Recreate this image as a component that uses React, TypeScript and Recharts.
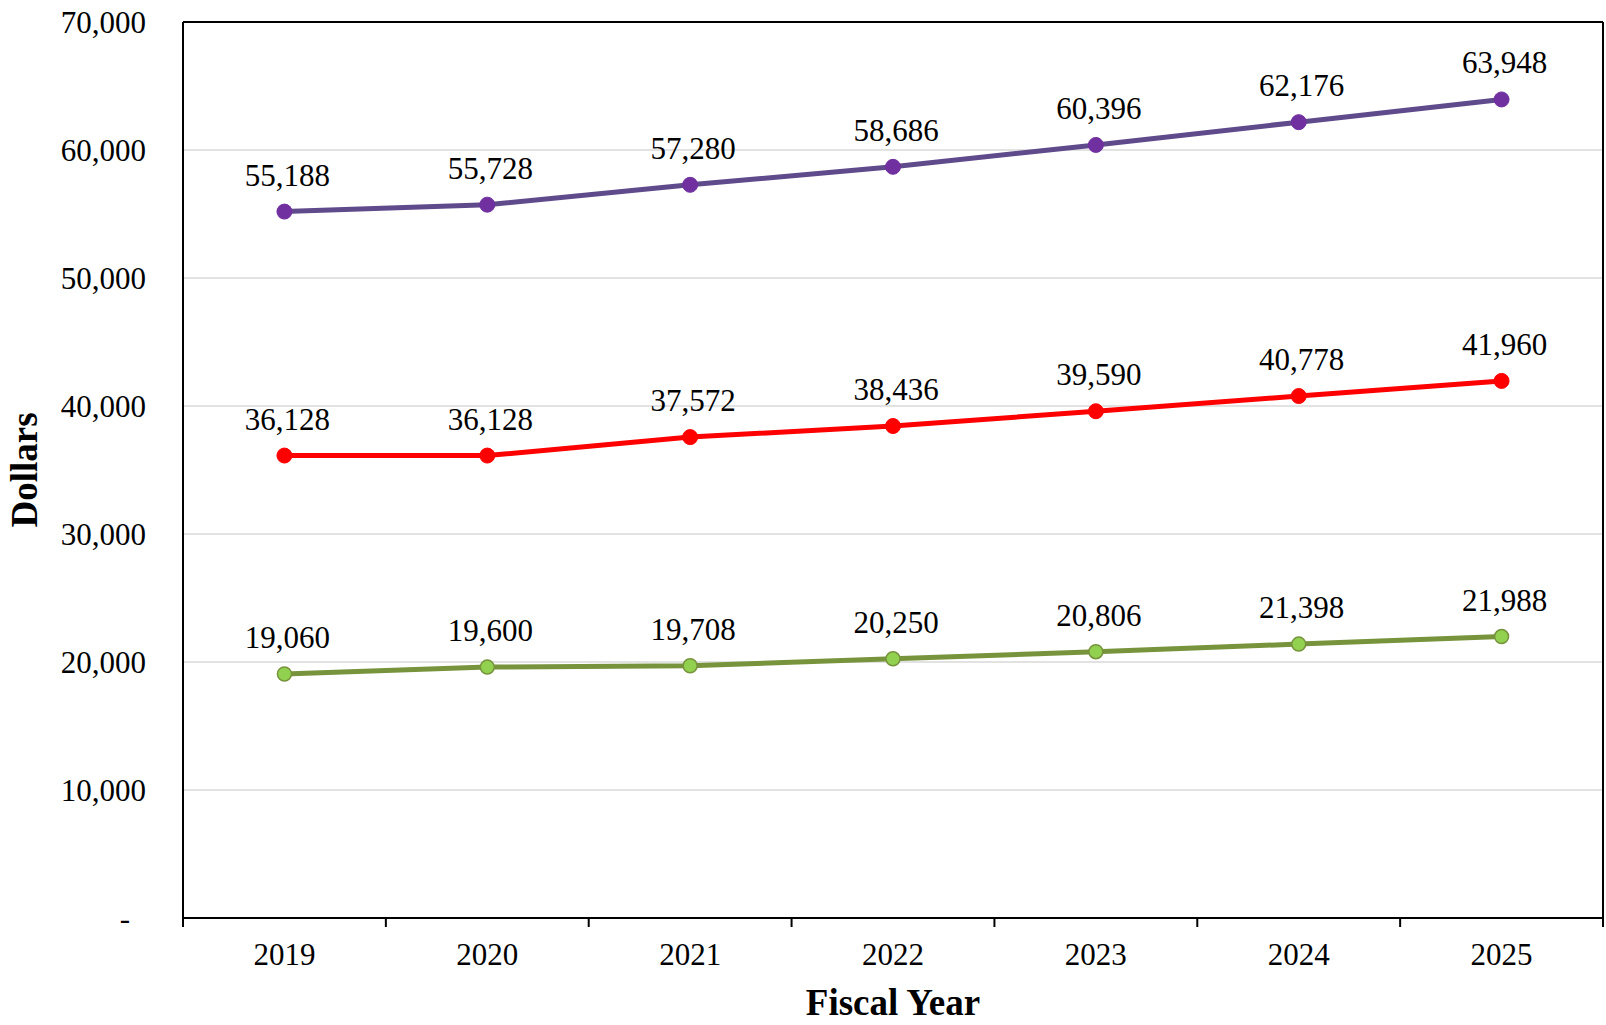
import { LineChart, Line, XAxis, YAxis, CartesianGrid, LabelList } from 'recharts'

const years = ['2019', '2020', '2021', '2022', '2023', '2024', '2025']
const upperValues = [55188, 55728, 57280, 58686, 60396, 62176, 63948]
const middleValues = [36128, 36128, 37572, 38436, 39590, 40778, 41960]
const lowerValues = [19060, 19600, 19708, 20250, 20806, 21398, 21988]
const yTicks = [0, 10000, 20000, 30000, 40000, 50000, 60000, 70000]

const data = years.map((year, i) => ({
  year,
  upper: upperValues[i],
  middle: middleValues[i],
  lower: lowerValues[i],
}))

const W = 1606
const H = 1025
const X_AXIS_H = 107
const Y_AXIS_W = 183
const margin = { top: 22, right: 3, bottom: 0, left: 0 }
const band = (W - margin.right - Y_AXIS_W) / years.length
const font = '"Liberation Serif", "Times New Roman", serif'

const fmt = (v: number) => (v === 0 ? '-' : v.toLocaleString('en-US'))

function XTick(props: any) {
  const { x, y, payload, index } = props
  const last = index === years.length - 1
  return (
    <g>
      <line x1={x - band / 2} x2={x - band / 2} y1={y} y2={y + 9} stroke="#000" strokeWidth={2} />
      {last && <line x1={x + band / 2} x2={x + band / 2} y1={y} y2={y + 9} stroke="#000" strokeWidth={2} />}
      <text x={x} y={y + 47} textAnchor="middle" fontFamily={font} fontSize={31} fill="#000">
        {payload.value}
      </text>
    </g>
  )
}

function YTick(props: any) {
  const { x, y, payload } = props
  const zero = payload.value === 0
  return (
    <text x={zero ? x - 16 : x} y={y} dy="0.35em" textAnchor="end" fontFamily={font} fontSize={31} fill="#000">
      {fmt(payload.value)}
    </text>
  )
}

const makeLabel = (props: any) => {
  const { x, y, value } = props
  return (
    <text x={x + 3} y={y - 26} textAnchor="middle" fontFamily={font} fontSize={31} fill="#000">
      {fmt(value)}
    </text>
  )
}

export default function App() {
  return (
    <div style={{ position: 'absolute', left: 0, top: 0, width: W, height: H, background: '#fff' }}>
      <LineChart width={W} height={H} data={data} margin={margin}>
        <CartesianGrid vertical={false} stroke="#d9d9d9" strokeWidth={1.5} />
        {/* top and right frame of the plot area */}
        <CartesianGrid
          stroke="#000"
          strokeWidth={2}
          horizontalCoordinatesGenerator={({ offset }: any) => [offset.top]}
          verticalCoordinatesGenerator={({ offset }: any) => [offset.left + offset.width]}
        />
        <XAxis
          dataKey="year"
          padding={{ left: band / 2, right: band / 2 }}
          axisLine={{ stroke: '#000', strokeWidth: 2 }}
          tickLine={false}
          tickSize={0}
          tickMargin={0}
          tick={<XTick />}
          height={X_AXIS_H}
          interval={0}
          label={(p: any) => {
            const vb = p.viewBox
            return (
              <text x={vb.x + vb.width / 2} y={vb.y + 97} textAnchor="middle" fontFamily={font} fontSize={37} fontWeight="bold" fill="#000">
                Fiscal Year
              </text>
            )
          }}
        />
        <YAxis
          width={Y_AXIS_W}
          domain={[0, 70000]}
          ticks={yTicks}
          interval={0}
          axisLine={{ stroke: '#000', strokeWidth: 2 }}
          tickLine={false}
          tickSize={0}
          tickMargin={37}
          tick={<YTick />}
          label={(p: any) => {
            const vb = p.viewBox
            const cx = vb.x + 24
            const cy = vb.y + vb.height / 2
            return (
              <text x={cx} y={cy} transform={`rotate(-90 ${cx} ${cy})`} textAnchor="middle" dominantBaseline="central" fontFamily={font} fontSize={37} fontWeight="bold" fill="#000">
                Dollars
              </text>
            )
          }}
        />
        <Line
          dataKey="upper"
          type="linear"
          stroke="#5f4a8b"
          strokeWidth={5}
          dot={{ r: 7.5, fill: '#7030a0', stroke: '#7030a0', strokeWidth: 1 }}
          isAnimationActive={false}
        >
          <LabelList dataKey="upper" content={makeLabel} />
        </Line>
        <Line
          dataKey="middle"
          type="linear"
          stroke="#ff0000"
          strokeWidth={5}
          dot={{ r: 7.5, fill: '#ff0000', stroke: '#ff0000', strokeWidth: 1 }}
          isAnimationActive={false}
        >
          <LabelList dataKey="middle" content={makeLabel} />
        </Line>
        <Line
          dataKey="lower"
          type="linear"
          stroke="#77933c"
          strokeWidth={5}
          dot={{ r: 7, fill: '#92d050', stroke: '#77933c', strokeWidth: 1.5 }}
          isAnimationActive={false}
        >
          <LabelList dataKey="lower" content={makeLabel} />
        </Line>
      </LineChart>
    </div>
  )
}
